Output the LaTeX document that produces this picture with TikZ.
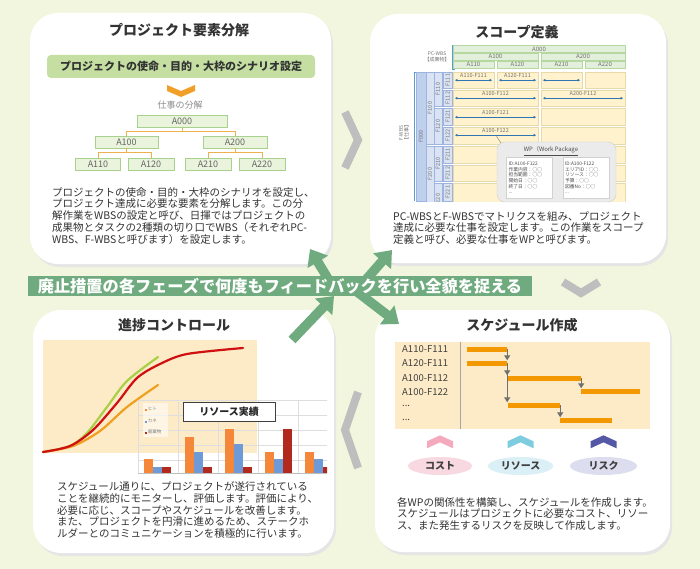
\documentclass[tikz,border=0pt]{standalone}
\usepackage{fontspec}
\setmainfont{Noto Sans CJK JP}
\usetikzlibrary{arrows.meta,positioning,calc,shapes.geometric}

\definecolor{bgc}{HTML}{F3F6DE}
\definecolor{fbgreen}{HTML}{6FAB7E}
\definecolor{chevgray}{HTML}{BEBEBE}
\definecolor{keygreen}{HTML}{C4DFA1}
\definecolor{treefill}{HTML}{EAF3DC}
\definecolor{treeline}{HTML}{A9D18E}
\definecolor{treelink}{HTML}{EFB04F}
\definecolor{chevorange}{HTML}{F0A028}
\definecolor{pcfill}{HTML}{E2EFDA}
\definecolor{pcline}{HTML}{B7D7A0}
\definecolor{fwfill}{HTML}{DAE3F3}
\definecolor{fwdark}{HTML}{BFD0EC}
\definecolor{fwline}{HTML}{9DB4DE}
\definecolor{bracketblue}{HTML}{5B9BD5}
\definecolor{cellfill}{HTML}{FFF2CC}
\definecolor{cellline}{HTML}{E8D9AA}
\definecolor{wbsarrow}{HTML}{2E75B6}
\definecolor{chartbg}{HTML}{FDEBC7}
\definecolor{barhito}{HTML}{F4873A}
\definecolor{barkane}{HTML}{6E9BD8}
\definecolor{barhaiki}{HTML}{B22A1E}
\definecolor{sgreen}{HTML}{A8CF45}
\definecolor{sred}{HTML}{D01010}
\definecolor{sorange}{HTML}{F0A020}
\definecolor{ganttbar}{HTML}{F39800}
\definecolor{ganttlink}{HTML}{707070}
\definecolor{costpink}{HTML}{F4A9BC}
\definecolor{costfill}{HTML}{F8D8E1}
\definecolor{rescyan}{HTML}{7DCCE0}
\definecolor{resfill}{HTML}{DAEFF6}
\definecolor{riskblue}{HTML}{5558A4}
\definecolor{riskfill}{HTML}{DCDDEE}

\begin{document}
\begin{tikzpicture}[x=1pt,y=-1pt,
 panel/.style={fill=white,rounded corners=28pt},
 shadow/.style={fill=black!10,rounded corners=28pt},
 ptitle/.style={font=\fontsize{14}{16}\selectfont\bfseries,text=black!80,inner sep=0},
 body/.style={font=\fontsize{10.5}{11.8}\selectfont,text=black!80,align=left,anchor=north west,inner sep=0},
 wbs/.style={draw=treeline,fill=treefill,minimum height=12pt,inner sep=0,font=\fontsize{9}{9}\selectfont,text=black!60},
 link/.style={draw=treelink,line width=1pt},
 fb/.style={draw=fbgreen,line width=9.5pt,-{Triangle[length=15pt,width=23pt]}},
 chev/.style={draw=chevgray,line width=8pt},
 pc/.style={draw=pcline,fill=pcfill,inner sep=0,minimum height=7pt,font=\fontsize{6}{6}\selectfont,text=black!55},
 fw/.style={draw=fwline,fill=fwfill,inner sep=0,rotate=90,font=\fontsize{5.5}{6}\selectfont,text=black!55},
 cell/.style={draw=cellline,fill=cellfill},
 span/.style={inner sep=0,minimum height=8pt,font=\fontsize{5.5}{6}\selectfont,text=black!55},
 spanarrow/.style={draw=wbsarrow,line width=0.8pt,{Latex[length=2.5pt,width=2.8pt]}-{Latex[length=2.5pt,width=2.8pt]}},
 wpcard/.style={draw=black!18,fill=white,inner sep=2pt,text width=42pt,minimum height=41pt,align=left,font=\fontsize{4.8}{5.6}\selectfont,text=black!70},
 grid/.style={draw=black!13,line width=0.5pt},
 scurve/.style={line width=2.2pt,line cap=round},
 lgd/.style={anchor=west,inner sep=0,font=\fontsize{4.5}{5}\selectfont,text=black!50},
 glabel/.style={anchor=west,inner sep=0,font=\fontsize{9.5}{10}\selectfont,text=black!75},
 gbar/.style={fill=ganttbar,inner sep=0,minimum height=5pt},
 glink/.style={draw=ganttlink,line width=1.3pt,-{Triangle[length=5pt,width=6pt]}},
 ell/.style={ellipse,inner sep=0,minimum height=18pt,font=\fontsize{10}{10}\selectfont\bfseries,text=black!75}]

\useasboundingbox (0,0) rectangle (700,569);
\fill[bgc] (0,0) rectangle (700,569);

% panels
\fill[shadow] (32,16) rectangle (333,267);
\fill[shadow] (372,17) rectangle (668,266);
\fill[shadow] (35,313) rectangle (336,556);
\fill[shadow] (377,313) rectangle (672,555);
\fill[panel] (30,13) rectangle (331,264);
\fill[panel] (370,14) rectangle (666,263);
\fill[panel] (33,310) rectangle (334,553);
\fill[panel] (375,310) rectangle (670,552);

% flow chevrons between the panels
\draw[chev] (345,112) -- (358,140) -- (345,168);
\draw[chev] (563,282) -- (581,293) -- (599,282);
\draw[chev] (358,392) -- (345,430) -- (358,468);

% feedback arrows
\coordinate (hubL) at (336,292);
\coordinate (hubR) at (356,291);
\coordinate (toP1) at (310,249);
\coordinate (toP2) at (392,250);
\coordinate (toP4) at (399,324);
\coordinate (fromP3) at (292,340);
\coordinate (hubin) at (334,296);
\draw[fb] (hubL) -- (toP1);
\draw[fb] (hubR) -- (toP2);
\draw[fb] (hubR) -- (toP4);
\draw[fb] (fromP3) -- (hubin);
\node[fill=fbgreen,text=white,minimum width=504pt,minimum height=20pt,inner sep=0,
 font=\fontsize{16.2}{17}\selectfont\bfseries] (banner) at (280,286)
 {廃止措置の各フェーズで何度もフィードバックを行い全貌を捉える};

% panel 1
\node[ptitle] (t1) at (179,30) {プロジェクト要素分解};
\node[fill=keygreen,rounded corners=4pt,minimum width=268pt,minimum height=23pt,inner sep=0,
 font=\fontsize{11}{11}\selectfont\bfseries,text=black!80] (goal) at (181,66.5)
 {プロジェクトの使命・目的・大枠のシナリオ設定};
\fill[chevorange] (167,85) -- (181,91) -- (195,85) -- (195,91) -- (181,97) -- (167,91) -- cycle;
\node[inner sep=0,font=\fontsize{9}{9}\selectfont,text=black!45] (split) at (180,105.5) {仕事の分解};
\foreach \n/\x/\y/\w in {000/182/121.5/90, 100/126.5/142/63, 200/235/142/64,
  110/98/164/45, 120/151/164/46, 210/208/164/46, 220/262/164/46}
  \node[wbs,minimum width=\w pt] (a\n) at (\x,\y) {A\n};
\foreach \p/\c in {000/100, 000/200, 100/110, 100/120, 200/210, 200/220}
  \draw[link] (a\p.south) -- ++(0,4) -| (a\c.north);
\node[body] (d1) at (52,187) {プロジェクトの使命・目的・大枠のシナリオを設定し、\\
 プロジェクト達成に必要な要素を分解します。この分\\
 解作業をWBSの設定と呼び、日揮ではプロジェクトの\\
 成果物とタスクの2種類の切り口でWBS（それぞれPC-\\
 WBS、F-WBSと呼びます）を設定します。};

% panel 2
\node[ptitle] (t2) at (517,32) {スコープ定義};
\node[inner sep=0,align=center,font=\fontsize{5}{5.5}\selectfont,text=black!55] (pclbl) at (437,57) {PC-WBS\\【成果物】};
\draw[bracketblue,line width=0.8pt] (455,45) -- (452,45) -- (452,69) -- (455,69);
\foreach \n/\x/\y/\w in {000/539/49/172, 100/495.5/56.5/85, 200/583/56.5/84,
  110/473.5/64.5/41, 120/517.5/64.5/41, 210/561.5/64.5/41, 220/605/64.5/40}
  \node[pc,minimum width=\w pt] (pa\n) at (\x,\y) {A\n};
\node[inner sep=0,align=center,rotate=90,font=\fontsize{5}{5.5}\selectfont,text=black!55] (fwlbl) at (404,133) {F-WBS\\【仕事】};
\draw[bracketblue,line width=0.8pt] (417,72) -- (414,72) -- (414,201);
\begin{scope}
 \clip (395,40) rectangle (630,202);
 \foreach \xa/\xb in {453/494, 497/538, 541/582, 585/625}
   \draw[cell] (\xa,72) rectangle (\xb,88);
 \foreach \ya/\yb in {90/106, 108/125, 127/144, 146/163, 165/181, 183/212} {
   \draw[cell] (453,\ya) rectangle (538,\yb);
   \draw[cell] (541,\ya) rectangle (625,\yb);
 }
 \node[fw,fill=fwdark,minimum width=129pt,minimum height=10pt] (f000) at (421,136.5) {F000};
 \node[fw,minimum width=72pt,minimum height=8pt] (f100) at (430,108) {F100};
 \node[fw,minimum width=56pt,minimum height=8pt] (f200) at (430,174) {F200};
 \node[fw,minimum width=34pt,minimum height=8pt] (f110) at (438,89) {F110};
 \node[fw,minimum width=36pt,minimum height=8pt] (f120) at (438,126) {F120};
 \node[fw,minimum width=35pt,minimum height=8pt] (f210) at (438,163.5) {F210};
 \node[fw,minimum width=34pt,minimum height=8pt] (f220) at (438,200) {F220};
 \foreach \n/\y/\l in {111/80/16, 112/98/16, 121/116.5/17, 122/135.5/17, 211/154.5/17, 212/173/16, 221/192/18}
   \node[fw,minimum width=\l pt,minimum height=9pt] (f\n) at (447.5,\y) {F\n};
\end{scope}
\node[span,minimum width=37pt] (s1) at (473.5,76) {A110-F111};
\node[span,minimum width=37pt] (s2) at (517.5,76) {A120-F111};
\node[span,minimum width=37pt] (s3) at (561.5,76) {};
\node[span,minimum width=81pt] (s4) at (495.5,94) {A100-F112};
\node[span,minimum width=80pt] (s5) at (583,94) {A200-F112};
\node[span,minimum width=81pt] (s6) at (495.5,113) {A100-F121};
\node[span,minimum width=81pt] (s7) at (495.5,131) {A100-F122};
\foreach \s in {1,2,3,4,5,6,7}
  \draw[spanarrow] (s\s.south west) -- (s\s.south east);
\node[draw=black!20,fill=black!8,rounded corners=8pt,minimum width=119pt,minimum height=60pt,inner sep=0] (wp) at (556.5,172) {};
\draw[black!45,line width=0.5pt] ($(s7.south)+(1,1)$) -- ($(wp.north west)+(4,1)$);
\node[inner sep=0,font=\fontsize{6}{6}\selectfont,text=black!70] (wpt) at (551,151) {\underline{WP（Work Package}};
\node[wpcard] (wpl) at (529.5,178) {ID:A100-F122\\作業内容：○○\\担当範囲：○○\\開始日：○○\\終了日：○○\\...};
\node[wpcard] (wpr) at (586,178) {ID:A100-F122\\エリアID：○○\\リソース：○○\\予算：○○\\図番No：○○\\...};
\node[body] (d2) at (393,211) {PC-WBSとF-WBSでマトリクスを組み、プロジェクト\\
 達成に必要な仕事を設定します。この作業をスコープ\\
 定義と呼び、必要な仕事をWPと呼びます。};

% panel 3
\node[ptitle] (t3) at (174,325) {進捗コントロール};
\fill[chartbg] (43,340) rectangle (257,453);
\draw[scurve,sgreen] plot[smooth] coordinates {(43,452) (70,446) (87,433) (107,407) (127,381) (158,357)};
\draw[scurve,sorange] plot[smooth] coordinates {(43,452) (73,446) (100,431) (127,407) (158,385)};
\draw[scurve,sred] plot[smooth] coordinates {(43,452) (70,446) (93,430) (117,403) (137,378) (160,364) (187,354) (243,348)};
\begin{scope}
 \clip (130,395) rectangle (327,480);
 \foreach \y in {400,415,430,445,460}
   \draw[grid] (138,\y) -- (340,\y);
 \foreach \x in {138,178,218,258,298}
   \draw[grid] (\x,400) -- (\x,473);
 \foreach \gx/\ho/\hb/\hr in {144/459/467/467, 185/437/452/467, 225/429/444/467, 265/452/459/429, 305/452/459/467} {
   \fill[barhito] (\gx,\ho) rectangle (\gx+9,473);
   \fill[barkane] (\gx+9,\hb) rectangle (\gx+18,473);
   \fill[barhaiki] (\gx+18,\hr) rectangle (\gx+27,473);
 }
 \draw[black!25] (138,473) -- (340,473);
\end{scope}
\node[fill=white,fill opacity=0.55,minimum width=25pt,minimum height=34pt,inner sep=0] (lg) at (155,420) {};
\node[lgd] (lh) at (145,409) {{\color{barhito}\rule{2pt}{2pt}}\,ヒト};
\node[lgd] (lk) at (145,421) {{\color{barkane}\rule{2pt}{2pt}}\,カネ};
\node[lgd] (lw) at (145,432) {{\color{barhaiki}\rule{2pt}{2pt}}\,廃棄物};
\node[draw=black!75,fill=white,line width=0.8pt,minimum width=92pt,minimum height=19pt,inner sep=0,
 font=\fontsize{10}{10}\selectfont\bfseries,text=black!85] (rtitle) at (229,411.5) {リソース実績};
\node[body] (d3) at (57,481.5) {スケジュール通りに、プロジェクトが遂行されている\\
 ことを継続的にモニターし、評価します。評価により、\\
 必要に応じ、スコープやスケジュールを改善します。\\
 また、プロジェクトを円滑に進めるため、ステークホ\\
 ルダーとのコミュニケーションを積極的に行います。};

% panel 4
\node[ptitle] (t4) at (522,325) {スケジュール作成};
\fill[chartbg] (395,342) rectangle (650,429);
\draw[black!35] (460,342) -- (460,429);
\foreach \l/\y in {A110-F111/349, A120-F111/363, A100-F112/378, A100-F122/392}
  \node[glabel] at (402,\y) {\l};
\node[glabel] (gmore1) at (402,406) {...};
\node[glabel] (gmore2) at (402,420) {...};
\node[gbar,minimum width=40pt] (g1) at (487,349) {};
\node[gbar,minimum width=40pt] (g2) at (487,363) {};
\node[gbar,minimum width=73pt] (g3) at (544.5,378) {};
\node[gbar,minimum width=59pt] (g4) at (610.5,391) {};
\node[gbar,minimum width=52pt] (g5) at (534,405) {};
\node[gbar,minimum width=52pt] (g6) at (586,420) {};
\draw[glink] (g1.east) -- (g1.east |- g2.north);
\draw[glink] (g2.east) -- (g2.east |- g3.north);
\draw[glink] (g2.east) -- (g2.east |- g5.north);
\draw[glink] (g3.east) -- (g3.east |- g4.north);
\draw[glink] (g5.east) -- (g5.east |- g6.north);
\node[ell,fill=costfill,minimum width=64pt] (cost) at (440,466) {コスト};
\node[ell,fill=resfill,minimum width=65pt] (res) at (520.5,466) {リソース};
\node[ell,fill=riskfill,minimum width=67pt] (risk) at (603.5,466) {リスク};
\foreach \n/\c in {cost/costpink, res/rescyan, risk/riskblue}
  \fill[\c] ($(\n.north)+(-13,-8.5)$) -- ++(0,-7) -- ++(13,-6) -- ++(13,6) -- ++(0,7) -- ++(-13,-6) -- cycle;
\node[body] (d4) at (397,497) {各WPの関係性を構築し、スケジュールを作成します。\\
 スケジュールはプロジェクトに必要なコスト、リソー\\
 ス、また発生するリスクを反映して作成します。};
\end{tikzpicture}
\end{document}
